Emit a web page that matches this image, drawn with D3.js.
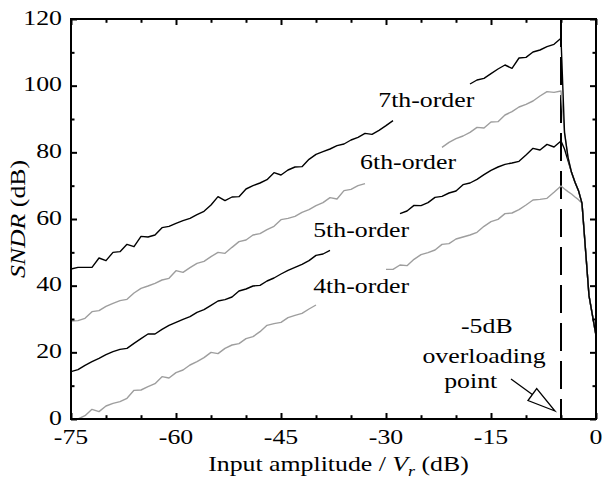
<!DOCTYPE html>
<html><head><meta charset="utf-8">
<script src="https://cdn.jsdelivr.net/npm/d3@7"></script>
<style>body{margin:0;background:#fff}svg{display:block}</style>
</head><body>
<svg id="chart" width="603" height="482"></svg>
<script>
// ---------- data ----------
const amp7a = [-75,-74,-73,-72,-71,-70,-69,-68,-67,-66,-65,-64,-63,-62,-61,-60,-59,-58,-57,-56,-55,-54,-53,-52,-51,-50,-49,-48,-47,-46,-45,-44,-43,-42,-41,-40,-39,-38,-37,-36,-35,-34,-33,-32,-31,-30,-29];
const sndr7a = [45.0,45.5,45.5,45.5,48.3,47.5,50.0,50.2,52.4,51.7,54.8,54.6,55.2,57.4,57.8,58.7,59.5,60.2,61.3,62.3,64.2,66.7,65.5,66.6,66.7,69.0,70.0,70.8,71.8,73.9,73.2,74.7,75.6,75.7,77.9,79.4,80.2,81.0,82.0,82.5,83.7,84.5,85.7,85.4,86.6,88.0,89.5];
const amp7b = [-18,-17,-16,-15,-14,-13,-12,-11,-10,-9,-8,-7,-6,-5,-4.5,-4,-3.5,-3,-2.5,-2,-1,0];
const sndr7b = [100.5,101.7,102.2,103.6,105.0,106.2,105.2,108.3,108.5,110.1,110.7,111.7,112.4,114.2,86,78.5,74,71,68.5,64.7,37,25];

const amp6a = [-75,-74,-73,-72,-71,-70,-69,-68,-67,-66,-65,-64,-63,-62,-61,-60,-59,-58,-57,-56,-55,-54,-53,-52,-51,-50,-49,-48,-47,-46,-45,-44,-43,-42,-41,-40,-39,-38,-37,-36,-35,-34,-33];
const sndr6a = [29.4,29.5,30.2,32.2,32.5,33.8,34.7,35.5,35.9,37.8,39.2,39.9,40.7,41.7,42.2,44.5,44.0,45.4,46.7,47.3,48.7,50.0,49.7,51.5,53.2,53.7,55.2,55.6,56.8,57.8,59.8,60.2,60.8,62.0,62.8,64.0,64.9,66.4,66.0,68.5,68.9,70.0,70.6];
const amp6b = [-22,-21,-20,-19,-18,-17,-16,-15,-14,-13,-12,-11,-10,-9,-8,-7,-6,-5,-4.5,-4,-3.5,-3,-2.5,-2,-1,0];
const sndr6b = [81.5,83.0,84.1,84.9,86.0,87.5,87.3,89.1,89.2,91.2,92.2,93.6,94.4,95.4,96.9,98.2,98.0,98.4,86,78.5,74,71,68.5,64.7,37,25];

const amp5a = [-75,-74,-73,-72,-71,-70,-69,-68,-67,-66,-65,-64,-63,-62,-61,-60,-59,-58,-57,-56,-55,-54,-53,-52,-51,-50,-49,-48,-47,-46,-45,-44,-43,-42,-41,-40,-39,-38];
const sndr5a = [14.2,14.8,16.1,17.2,18.2,19.3,20.2,20.9,21.2,22.7,24.1,25.5,25.5,26.9,28.1,29.0,29.9,30.7,32.0,32.8,34.1,35.4,35.8,36.6,38.4,39.0,39.9,40.1,41.4,42.3,43.5,44.6,45.5,46.4,47.5,49.1,49.5,50.6];
const amp5b = [-28,-27,-26,-25,-24,-23,-22,-21,-20,-19,-18,-17,-16,-15,-14,-13,-12,-11,-10,-9,-8,-7,-6,-5,-4.5,-4,-3.5,-3,-2.5,-2,-1,0];
const sndr5b = [61.6,62.4,64.1,64.0,64.9,66.5,66.8,67.8,68.4,70.3,70.8,71.9,73.3,74.6,75.6,76.4,76.8,77.3,79.2,81.2,80.7,82.4,81.6,83.4,81,77.5,74,71,68.5,64.7,37,25];

const amp4a = [-74,-73,-72,-71,-70,-69,-68,-67,-66,-65,-64,-63,-62,-61,-60,-59,-58,-57,-56,-55,-54,-53,-52,-51,-50,-49,-48,-47,-46,-45,-44,-43,-42,-41,-40];
const sndr4a = [0.0,1.0,2.9,2.2,3.9,4.7,5.2,6.2,8.6,8.7,9.7,10.6,12.7,12.3,13.9,14.7,16.2,17.2,18.4,20.0,19.6,21.2,22.2,22.6,24.1,24.7,26.2,28.1,28.6,29.0,30.4,31.1,31.7,33.0,34.2];
const amp4b = [-30,-29,-28,-27,-26,-25,-24,-23,-22,-21,-20,-19,-18,-17,-16,-15,-14,-13,-12,-11,-10,-9,-8,-7,-6,-5,-4.5,-4,-3.5,-3,-2.5,-2,-1,0];
const sndr4b = [44.9,44.9,46.2,46.0,47.9,49.3,49.9,50.7,52.4,52.6,54.0,54.6,55.2,56.0,57.8,59.2,59.9,61.6,61.8,62.8,64.2,65.7,65.9,66.2,68.0,69.9,69,68.2,67.5,66.6,65.8,64.7,37,25];

const seriesNames = ["4th-order","5th-order","6th-order","7th-order"];
const xMajorTicks = [-75,-60,-45,-30,-15,0];
const xMinorTicks = [-70,-65,-55,-50,-40,-35,-25,-20,-10,-5];
const yMajorTicks = [0,20,40,60,80,100,120];
const yMinorTicks = [10,30,50,70,90,110];
const overloadPoint = -5;

// ---------- layout ----------
const W = 603, H = 482;
const m = {left: 71, right: 7, top: 19, bottom: 63};
const FONT = "'Liberation Serif','Times New Roman',serif";
const FS = 21.5, SX = 1.2;
const BLACK = "#000", GRAY = "#9e9e9e";

const svg = d3.select("#chart");
const x = d3.scaleLinear().domain([-75, 0]).range([m.left, W - m.right]);
const y = d3.scaleLinear().domain([0, 120]).range([H - m.bottom, m.top]);

const line = d3.line().x(d => x(d[0])).y(d => y(d[1]));
const zip = (a, b) => a.map((v, i) => [v, b[i]]);

const segs = [
  {a: amp4a, v: sndr4a, c: GRAY}, {a: amp4b, v: sndr4b, c: GRAY},
  {a: amp5a, v: sndr5a, c: BLACK}, {a: amp5b, v: sndr5b, c: BLACK},
  {a: amp6a, v: sndr6a, c: GRAY}, {a: amp6b, v: sndr6b, c: GRAY},
  {a: amp7a, v: sndr7a, c: BLACK}, {a: amp7b, v: sndr7b, c: BLACK}
];

// dashed overload line
svg.append("line")
  .attr("x1", x(overloadPoint)).attr("x2", x(overloadPoint))
  .attr("y1", y(120)).attr("y2", y(0))
  .attr("stroke", BLACK).attr("stroke-width", 2)
  .attr("stroke-dasharray", "28,10");

svg.append("g").selectAll("path").data(segs).join("path")
  .attr("d", d => line(zip(d.a, d.v)))
  .attr("fill", "none").attr("stroke", d => d.c)
  .attr("stroke-width", 1.4).attr("stroke-linejoin", "round");

// axes (ticks only)
function ticks(axisFn, scale, vals, size, tr) {
  const g = svg.append("g").attr("transform", tr)
    .call(axisFn(scale).tickValues(vals).tickSizeInner(-size).tickSizeOuter(0).tickFormat(""));
  g.select(".domain").remove();
  g.selectAll("line").attr("stroke", BLACK).attr("stroke-width", 2);
  return g;
}
const bT = `translate(0,${y(0)})`, tT = `translate(0,${y(120)})`;
const lT = `translate(${x(-75)},0)`, rT = `translate(${x(0)},0)`;
ticks(d3.axisBottom, x, xMajorTicks, 6, bT);
ticks(d3.axisBottom, x, xMinorTicks, 3.8, bT);
ticks(d3.axisTop, x, xMajorTicks, 6, tT);
ticks(d3.axisTop, x, xMinorTicks, 3.8, tT);
ticks(d3.axisLeft, y, yMajorTicks, 6, lT);
ticks(d3.axisLeft, y, yMinorTicks, 3.5, lT);
ticks(d3.axisRight, y, yMajorTicks, 6, rT);
ticks(d3.axisRight, y, yMinorTicks, 3.5, rT);

// frame
svg.append("rect")
  .attr("x", x(-75)).attr("y", y(120))
  .attr("width", x(0) - x(-75)).attr("height", y(0) - y(120))
  .attr("fill", "none").attr("stroke", BLACK).attr("stroke-width", 2);

// text helper (horizontally stretched serif)
function txt(px, py, anchor, rot) {
  return svg.append("text")
    .attr("transform", `translate(${px},${py})${rot ? " rotate(" + rot + ")" : ""} scale(${SX},1)`)
    .attr("text-anchor", anchor)
    .attr("font-family", FONT).attr("font-size", FS).attr("fill", BLACK);
}

xMajorTicks.forEach(t => txt(x(t), y(0) + 25, "middle").text(t));
yMajorTicks.forEach(t => txt(x(-75) - 9, y(t) + 5.8, "end").text(t));

// axis titles
const xt = txt((x(-75) + x(0)) / 2 + 5, 471, "middle");
xt.append("tspan").text("Input amplitude / ");
xt.append("tspan").attr("font-style", "italic").text("V");
xt.append("tspan").attr("font-style", "italic").attr("font-size", 15).attr("dy", 5).text("r");
xt.append("tspan").attr("dy", -5).text(" (dB)");

const yt = txt(24.5, 219, "middle", -90);
yt.append("tspan").attr("font-style", "italic").text("SNDR");
yt.append("tspan").text(" (dB)");

// series labels
const labelPos = [[-40.4, 37.9], [-40.4, 54.7], [-33.7, 75.0], [-31.1, 93.6]];
seriesNames.forEach((n, i) => txt(x(labelPos[i][0]), y(labelPos[i][1]), "start").text(n));

// annotation
txt(x(-15.6), y(25.8), "middle").text("-5dB");
txt(x(-16.0), y(16.8), "middle").text("overloading");
txt(x(-17.9), y(9.2), "middle").text("point");

const tip = [x(-5.86), y(2.4)], from = [x(-12.14), y(12)];
const dx = tip[0] - from[0], dy = tip[1] - from[1], L = Math.hypot(dx, dy);
const ux = dx / L, uy = dy / L, HL = 28, HW = 7.4;
const base = [tip[0] - ux * HL, tip[1] - uy * HL];
svg.append("line").attr("x1", from[0]).attr("y1", from[1])
  .attr("x2", base[0]).attr("y2", base[1]).attr("stroke", BLACK).attr("stroke-width", 1.3);
svg.append("polygon")
  .attr("points", [tip, [base[0] - uy * HW, base[1] + ux * HW], [base[0] + uy * HW, base[1] - ux * HW]].map(p => p.join(",")).join(" "))
  .attr("fill", "#fff").attr("stroke", BLACK).attr("stroke-width", 1.3).attr("stroke-linejoin", "miter");
</script>
</body></html>
